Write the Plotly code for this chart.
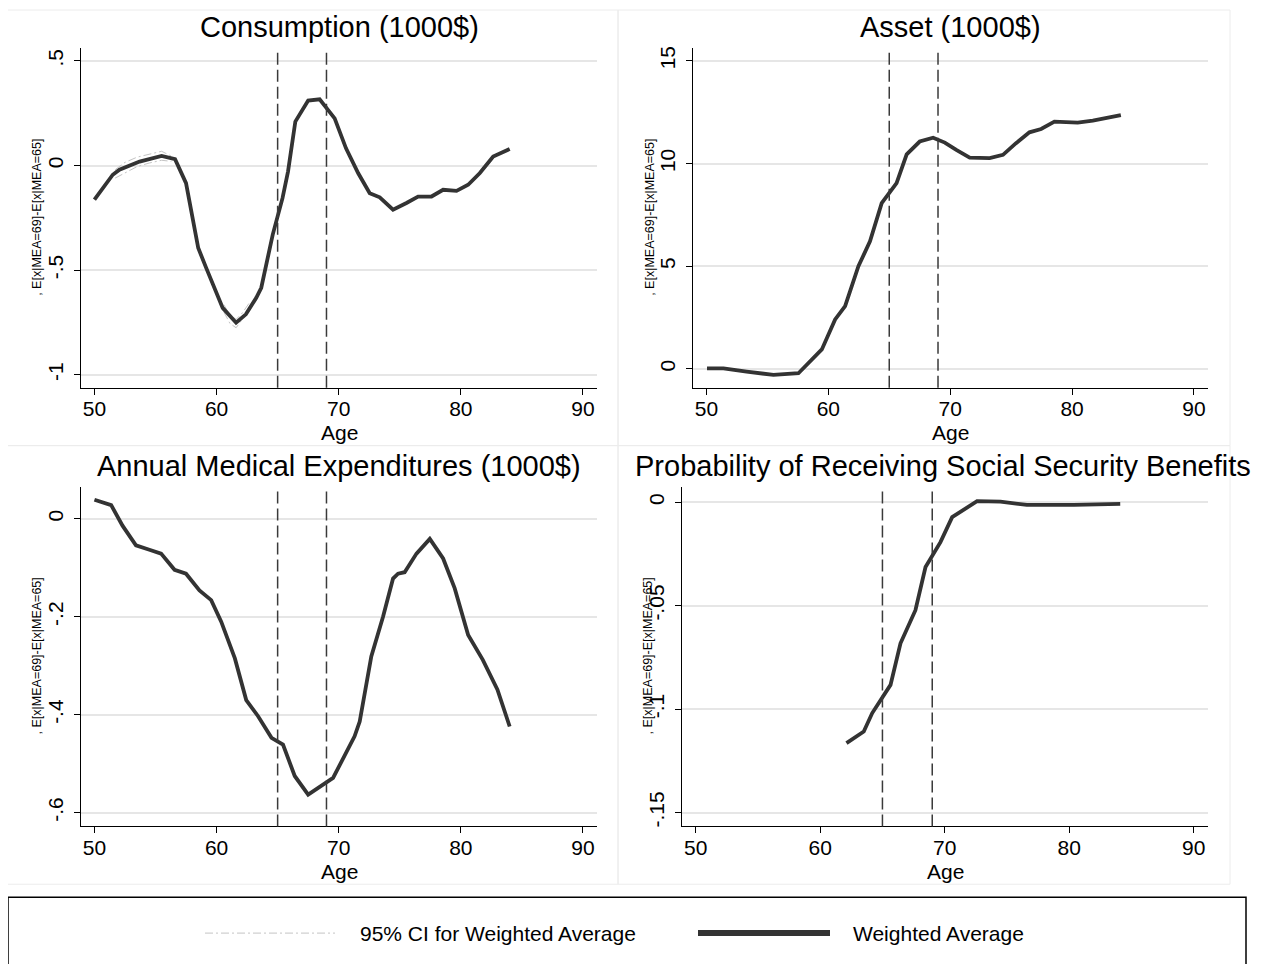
import plotly.graph_objects as go

# the page body adds an 8px margin, so the figure is 8px smaller and all
# reference pixel positions are shifted by 8
OFF = 8
W, H = 1267 - OFF, 964 - OFF


def fx(px):
    return (px - OFF) / W


def fy(py):
    return 1 - (py - OFF) / H


# consumption
cons_age = [50.0, 51.5, 52.05, 53.7, 55.5, 56.6, 57.5, 58.5, 59.15, 60.5, 61.6, 62.4, 63.25,
            63.66, 64.6, 65.4, 65.85, 66.45, 67.5, 68.44, 69.67, 70.6, 71.6, 72.54, 73.36,
            74.45, 75.55, 76.5, 77.6, 78.55, 79.65, 80.6, 81.56, 82.65, 84.0]
cons_wa = [-0.163, -0.044, -0.02, 0.019, 0.046, 0.03, -0.084, -0.394, -0.489, -0.68, -0.751, -0.711, -0.632,
           -0.584, -0.33, -0.156, -0.029, 0.21, 0.31, 0.316, 0.225, 0.082, -0.037, -0.132, -0.152,
           -0.211, -0.179, -0.149, -0.148, -0.116, -0.121, -0.092, -0.036, 0.043, 0.079]
cons_ci_age = [51.7, 52.5, 53.5, 54.5, 55.5, 56.3, None, 60.6, 61.1, 61.6, 62.1, 62.7]
cons_ci_hi = [-0.02, 0.015, 0.04, 0.055, 0.068, 0.045, None, -0.665, -0.715, -0.735, -0.705, -0.655]
cons_ci_lo = [-0.06, -0.035, -0.005, 0.012, 0.025, 0.02, None, -0.70, -0.755, -0.775, -0.735, -0.68]

# asset
asset_age = [50.05, 51.4, 53.3, 55.5, 57.55, 58.4, 59.47, 60.56, 61.38, 62.47, 63.42, 64.38, 65.6,
             66.43, 67.5, 68.6, 69.56, 70.5, 71.6, 73.24, 74.33, 75.4, 76.5, 77.46, 78.55, 80.46,
             81.7, 84.0]
asset_wa = [0.03, 0.03, -0.13, -0.29, -0.21, 0.31, 0.95, 2.41, 3.06, 5.0, 6.21, 8.07, 9.05,
            10.45, 11.07, 11.26, 11.02, 10.66, 10.29, 10.26, 10.42, 10.99, 11.52, 11.68, 12.04, 11.99,
            12.09, 12.36]

# medical expenditures
med_age = [50.0, 51.37, 52.3, 53.4, 54.5, 55.46, 56.56, 57.5, 58.6, 59.56, 60.38, 61.5, 62.43,
           63.4, 64.5, 65.44, 66.4, 67.5, 69.54, 71.3, 71.72, 72.67, 73.63, 74.45, 74.86, 75.4,
           76.37, 77.46, 78.55, 79.5, 80.6, 81.8, 83.0, 84.0]
med_wa = [0.039, 0.028, -0.014, -0.054, -0.063, -0.071, -0.104, -0.112, -0.146, -0.166, -0.21, -0.285, -0.37,
          -0.403, -0.447, -0.461, -0.525, -0.563, -0.529, -0.444, -0.414, -0.281, -0.2, -0.122, -0.112, -0.109,
          -0.071, -0.041, -0.081, -0.142, -0.237, -0.288, -0.349, -0.424]

# probability of receiving SS benefits
ss_age = [62.11, 63.5, 64.18, 65.65, 66.45, 67.65, 68.46, 69.66, 70.6, 71.53, 72.6, 74.48, 76.6, 80.37, 84.1]
ss_wa = [-0.1164, -0.1108, -0.1019, -0.0883, -0.0682, -0.0522, -0.0313, -0.0193, -0.0072, -0.0037,
         0.0005, 0.0003, -0.0013, -0.0013, -0.0008]

x_ticks = [50, 60, 70, 80, 90]
cutoffs = [65, 69]

panels = [
    dict(title="Consumption (1000$)", x=cons_age, y=cons_wa,
         px=(81, 597), py=(46, 387), yr=[-1.062, 0.562],
         yt=[-1, -0.5, 0, 0.5], ytt=["-1", "-.5", "0", ".5"]),
    dict(title="Asset (1000$)", x=asset_age, y=asset_wa,
         px=(693, 1208), py=(46, 387), yr=[-0.92, 15.63],
         yt=[0, 5, 10, 15], ytt=["0", "5", "10", "15"]),
    dict(title="Annual Medical Expenditures (1000$)", x=med_age, y=med_wa,
         px=(81, 597), py=(486, 827), yr=[-0.628, 0.066],
         yt=[-0.6, -0.4, -0.2, 0], ytt=["-.6", "-.4", "-.2", "0"]),
    dict(title="Probability of Receiving Social Security Benefits", x=ss_age, y=ss_wa,
         px=(682, 1208), py=(486, 827), yr=[-0.1567, 0.0076],
         yt=[-0.15, -0.1, -0.05, 0], ytt=["-.15", "-.1", "-.05", "0"]),
]

FONT = "Arial, Liberation Sans, sans-serif"
fig = go.Figure()
layout = dict(width=W, height=H, margin=dict(l=0, r=0, t=0, b=0),
              paper_bgcolor="white", plot_bgcolor="white", showlegend=False,
              font=dict(family=FONT, color="black"))
shapes = []
annotations = []

# panel frames
frames = [(7, 8, 618, 445), (618, 8, 1230, 445), (7, 445, 618, 885), (618, 445, 1230, 885)]
for (x0, y0, x1, y1) in frames:
    shapes.append(dict(type="rect", xref="paper", yref="paper", x0=fx(x0), x1=fx(x1),
                       y0=fy(y0), y1=fy(y1), line=dict(color="#ececec", width=1)))

for i, p in enumerate(panels):
    n = "" if i == 0 else str(i + 1)
    xa, ya = "x" + n, "y" + n
    if i == 0:
        fig.add_trace(go.Scatter(x=cons_ci_age, y=cons_ci_hi, mode="lines", xaxis=xa, yaxis=ya,
                                 line=dict(color="#c4c4c4", width=1, dash="8px,3px,2px,3px")))
        fig.add_trace(go.Scatter(x=cons_ci_age, y=cons_ci_lo, mode="lines", xaxis=xa, yaxis=ya,
                                 line=dict(color="#c4c4c4", width=1, dash="8px,3px,2px,3px")))
    fig.add_trace(go.Scatter(x=p["x"], y=p["y"], mode="lines", xaxis=xa, yaxis=ya,
                             line=dict(color="#333333", width=3.8)))
    dx = [fx(p["px"][0]), fx(p["px"][1])]
    dy = [fy(p["py"][1]), fy(p["py"][0])]
    layout["xaxis" + n] = dict(domain=dx, range=[48.9, 91.15], anchor=ya, tickvals=x_ticks,
                               showline=True, linecolor="black", linewidth=1, ticks="outside",
                               ticklen=6, tickcolor="black", showgrid=False, zeroline=False,
                               tickfont=dict(size=21), ticklabelstandoff=-4, fixedrange=True)
    layout["yaxis" + n] = dict(domain=dy, range=p["yr"], anchor=xa, tickvals=p["yt"], ticktext=p["ytt"],
                               tickangle=-90, showline=True, linecolor="black", linewidth=1,
                               ticks="outside", ticklen=6, tickcolor="black", showgrid=True,
                               gridcolor="#e6e6e6", gridwidth=1.5, zeroline=False,
                               tickfont=dict(size=21), ticklabelstandoff=3, fixedrange=True)
    for c in cutoffs:
        shapes.append(dict(type="line", xref=xa, yref=ya + " domain", x0=c, x1=c, y0=0, y1=1,
                           line=dict(color="#3a3a3a", width=1.5, dash="12px,5px")))
    cx = fx((p["px"][0] + p["px"][1]) / 2)
    tx = cx if i < 3 else fx(633)
    annotations.append(dict(text=p["title"], xref="paper", yref="paper", x=tx,
                            xanchor="center" if i < 3 else "left",
                            y=fy(p["py"][0] - 21), yanchor="middle", showarrow=False,
                            font=dict(size=29)))
    annotations.append(dict(text="Age", xref="paper", yref="paper", x=cx, xanchor="center",
                            y=fy(p["py"][1] + 45), yanchor="middle", showarrow=False,
                            font=dict(size=21)))
    lx = [37, 650, 37, 648][i]
    annotations.append(dict(text=", E[x|MEA=69]-E[x|MEA=65]", xref="paper", yref="paper",
                            x=fx(lx), y=fy((p["py"][0] + p["py"][1]) / 2), textangle=-90,
                            xanchor="center", yanchor="middle",
                            showarrow=False, font=dict(size=12.5)))

# legend box
shapes.append(dict(type="rect", xref="paper", yref="paper", x0=fx(8), x1=fx(1246),
                   y0=fy(898), y1=-0.02, line=dict(color="black", width=1.5)))
shapes.append(dict(type="line", xref="paper", yref="paper", x0=fx(205), x1=fx(335),
                   y0=fy(934), y1=fy(934),
                   line=dict(color="#c4c4c4", width=1, dash="8px,3px,2px,3px")))
shapes.append(dict(type="line", xref="paper", yref="paper", x0=fx(698), x1=fx(830),
                   y0=fy(934), y1=fy(934), line=dict(color="#333333", width=6)))
annotations.append(dict(text="95% CI for Weighted Average", xref="paper", yref="paper",
                        x=fx(358), y=fy(934), xanchor="left", yanchor="middle",
                        showarrow=False, font=dict(size=21)))
annotations.append(dict(text="Weighted Average", xref="paper", yref="paper",
                        x=fx(851), y=fy(934), xanchor="left", yanchor="middle",
                        showarrow=False, font=dict(size=21)))

layout["shapes"] = shapes
layout["annotations"] = annotations
fig.update_layout(**layout)

fig.write_html("out.html")
